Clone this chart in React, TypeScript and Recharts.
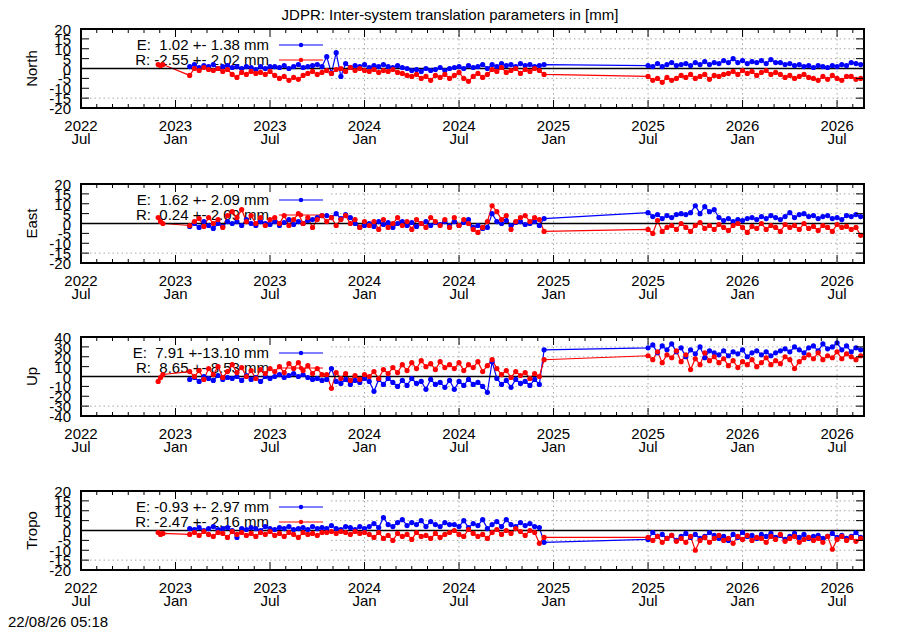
import React from 'react';
import { LineChart, Line, XAxis, YAxis, ReferenceLine, ReferenceArea } from 'recharts';

const FONT = '"Liberation Sans", Arial, Helvetica, sans-serif';
const BLUE = '#0000ff';
const RED = '#ff0000';
const DOT_R = 2.6;

// x axis: months counted from the first labelled tick
const X_MAX = 49.71;
const KEY_EDGE = 15.87;
const MONTH_TICKS = [0, 1, 2, 3, 4, 5, 6, 7, 8, 9, 10, 11, 12, 13, 14, 15, 16, 17, 18, 19, 20, 21, 22, 23, 24, 25, 26, 27, 28, 29, 30, 31, 32, 33, 34, 35, 36, 37, 38, 39, 40, 41, 42, 43, 44, 45, 46, 47, 48, 49];
const X_TICK_YEARS = ['2022', '2023', '2023', '2024', '2024', '2025', '2025', '2026', '2026'];
const X_TICK_MONTHS = ['Jul', 'Jan', 'Jul', 'Jan', 'Jul', 'Jan', 'Jul', 'Jan', 'Jul'];
const GRID_X = [18, 24, 30, 36, 42, 48];

// sample times (months)
const T0 = [4.9, 5.05, 5.2];
const T1 = [6.9, 7.2, 7.5, 7.8, 8.1, 8.4, 8.7, 9.0, 9.3, 9.6,
  9.9, 10.2, 10.5, 10.8, 11.1, 11.4, 11.7, 12.0, 12.3, 12.6,
  12.9, 13.2, 13.5, 13.8, 14.1, 14.4, 14.7, 15.0, 15.3, 15.6,
  15.9, 16.2, 16.5, 16.8, 17.1, 17.4, 17.7, 18.0, 18.3, 18.6,
  18.9, 19.2, 19.5, 19.8, 20.1, 20.4, 20.7, 21.0, 21.3, 21.6,
  21.9, 22.2, 22.5, 22.8, 23.1, 23.4, 23.7, 24.0, 24.3, 24.6,
  24.9, 25.2, 25.5, 25.8, 26.1, 26.4, 26.7, 27.0, 27.3, 27.6,
  27.9, 28.2, 28.5, 28.8, 29.1, 29.4];
const T2 = [36.0, 36.3, 36.6, 36.9, 37.2, 37.5, 37.8, 38.1, 38.4, 38.7,
  39.0, 39.3, 39.6, 39.9, 40.2, 40.5, 40.8, 41.1, 41.4, 41.7,
  42.0, 42.3, 42.6, 42.9, 43.2, 43.5, 43.8, 44.1, 44.4, 44.7,
  45.0, 45.3, 45.6, 45.9, 46.2, 46.5, 46.8, 47.1, 47.4, 47.7,
  48.0, 48.3, 48.6, 48.9, 49.2, 49.5];

// North
const NORTH_R0 = [2, 1.5, 2];
const NORTH_E1 = [1, 2, 0.5, 1.5, 1, 2, 0, 1, 1.5,
  0.5, 1, 0, 1, 0.5, -0.5, 1, 0, 1,
  1, 0.5, 1.5, 0, 1, 2, 0.5, 1, 1.5, 2, 1,
  6, -2.5, 8, -4, 2.5, 0.5,
  1.5, 1, 2, 0.5, 1.5, 1, 2, 1, 0.5, 1.5,
  0.5, 0, -1, -0.5, -1.5, 0, -1, -0.5, 0.5, -1, 0,
  0.5, 1, 0, 1.5, 0.5, 1, 2, 0,
  2, 1, 2.5, 1.5, 2, 1, 2.5, 1.5, 2, 1, 1.5, 2];
const NORTH_R1 = [-3.5, 0, -1, 0.5, -0.5, -1, 0, -1.5, -0.5,
  -3, -4.5, -2, -3, -1.5, -2.5, -2, -3, -1.5,
  -3.5, -5, -4, -6, -4.5, -5.5, -3.5,
  -2.5, -1.5, -3, -2, -1, -2.5,
  -0.5, 0, -1.5, 0.5, -1, 0, -1,
  -1.5, -0.5, -2, -1, -1.5, -0.5, -2,
  -2.5, -3.5, -4, -3, -5, -4, -6, -3.5, -4.5, -3, -5,
  -3.5, -2, -5, -6.5, -4, -2.5, -4.5, -3,
  -0.5, -1.5, 0.5, -2, -1, 0, -2.5, -0.5, -1.5, 0, -1, -3];
const NORTH_E2 = [1.5, 1, 2.5, 1, 2, 3, 1.5, 2,
  2.5, 1.5, 3, 2, 3.5, 2, 3, 2.5, 4, 3, 5,
  3, 4, 2.5, 3.5, 3, 4, 2.5, 4.5, 3,
  3, 2, 2.5, 1.5, 2, 1, 1.5,
  0.5, 1.5, 1, 0.5, 1.5, 1, 2, 1.5,
  3, 2.5, 2];
const NORTH_R2 = [-4, -6, -5, -7, -4.5, -6, -5, -3.5,
  -4.5, -3, -5, -4, -3, -5.5, -3.5, -4, -3, -2.5, -1.5,
  -3, -1, -2.5, -1.5, -3.5, -2, -1, -3, -2,
  -3, -4.5, -3.5, -5, -4, -3, -4.5,
  -5, -6, -4, -5.5, -3.5, -5, -6, -4,
  -4, -5.5, -5];

// East
const EAST_R0 = [3, 1, 0];
const EAST_E1 = [-1.5, 0, -2, 1, -1, -2.5, 0, -1.5, 1,
  0, 1, -1, 2, 0, -1, 1, 0, -0.5,
  1, -1, 0.5, 2, -0.5, 1, 0, 1.5, 2, 3, 4,
  4, 3, 5, 2.5, 4.5, 3, 0, -2, -1,
  0, -1.5, 1, -0.5, 0.5, -2, 0, 1, -1, 0.5, -1.5, 0, 1, -1, 0.5, -0.5, 1, -1,
  1, -1, 0.5, 2, -2, -1, -2.5, -2,
  5, 1,
  0, 1.5, -1, 0.5, 1, -0.5, 0, 1, -1, 2.5];
const EAST_R1 = [-1, 1, 2.5, -1.5, 3, 0, 2, -2, 4,
  6, 3, 7, 1, 4, 0, 3, -1, 2,
  3, 0, 4, -1, 2, 5, 0, 3, -2, 2, 4,
  1, 3, -1, 2, 4, 0, 2, -2, 1,
  -1, 1, -3, 2, -2, 0, 3, -1, 1, -3, 2, 0, -2, 3, 1, -1, 2, -2,
  3, -1, 2, 0, -3, -4.5, -2, 1,
  9, 6,
  2, 4, -3, 1, 3, 4, 1, 3, 2, -4];
const EAST_E2 = [5.5, 3.5, 4.5, 2.5, 4, 3, 4.5, 5,
  4.5, 5.5, 9, 5, 8.5, 6, 7, 3, 1.5, 2.5, 1, 2, 1.5, 2.5,
  3, 2, 3.5, 2.5, 4, 3, 2, 3.5, 5.5, 3, 4.5, 5, 3.5, 4, 2.5, 3.5, 4, 2.5, 3, 2, 4, 3.5, 4.5, 3.5];
const EAST_R2 = [-3, -5, 1.5, -4, -2,
  -1, -3, 0, -2, -4, -1, 0.5, -2.5, -1, -3,
  -0.5, -2, -3.5, -1, 0, -2, -4.5, -1.5, -2.5, 0,
  -3, -1, -2, -4, -0.5, -2, -1, -3, 0, -2.5,
  -1.5, -3.5, -1, -2, -4, -0.5, -2, -1.5, -3, -2,
  -6];

// Up
const UP_R0 = [-5, -1, 2];
const UP_E1 = [-3, -1, -5, 0, -2, -4, 1, -3, -1,
  -2, 0, -4, 1, -3, -1, -5, 0, -2,
  0, 2, -1, 1, 3, 0, 2, -1, -3, -2, -4,
  -3, 8, -5, -7, -3, -8, -4, -6, -2,
  -5, -15, -3, -8, -2, -6, -10,
  -4, -9, -2, -7, -5, -13, -3, -8, -6, -11, -4,
  -13, -5, -9, -3, -8, -6, -10, -16,
  15,
  -2, -8, -4, -11, -3, -7, -5, -9, -3, -8,
  27];
const UP_R1 = [5,
  0, 6, -3, 8, 2, 10, -1, 5,
  12, 4, 9, 0, 6, -2, 7, 3, 8,
  5, 10, 4, 13, 8, 14, 6, 11, 3, 8, 2,
  2, -12, 4, -2, 3, -4, 1, -3, 2,
  0, 5, -2, 7, 3, 9, 4,
  12, 6, 14, 8, 16, 10, 13, 7, 15, 9, 12,
  8, 14, 6, 12, 9, 15, 5, 11,
  17,
  8, 2, 6, -1, 5, 1, 4, -2, 3, 0,
  17];
const UP_E2 = [29, 32, 24, 31, 27, 33,
  25, 29, 20, 27, 23, 30, 19, 26, 24,
  22, 26, 21, 25, 23, 27, 20, 24, 26, 22, 25, 21, 24, 26,
  28, 25, 30, 27, 24, 29, 31, 26, 33, 28, 30, 34, 27, 31, 25, 29, 27];
const UP_R2 = [21, 17, 25, 14, 22, 19,
  26, 15, 22, 7, 18, 12, 24, 16, 20,
  14, 18, 11, 16, 9, 15, 12, 17, 10, 14, 19, 12, 16, 13,
  20, 17, 8, 15, 19, 22, 18, 24, 17, 21, 19, 25, 18, 23, 20, 17, 21];

// Tropo
const TROPO_R0 = [-1, -2, -1.5];
const TROPO_E1 = [1, 0.5, 1.5, 0, 1, 2, 0.5, 1, 1.5, 0,
  -3.5, 1, 0.5, 1.5, 1, 0, 2, 1, 0.5, 1.5,
  1, 2, 0.5, 1, 1.5, 0.5, 2, 1, 1.5,
  1, 2.5, 1, 0.5, 2, 1.5, 0.5, 2, 1,
  2, 3.5, 1.5, 6.5, 3, 2, 4, 5.5, 2.5, 4, 3, 5, 2, 4.5, 3, 2, 4, 3,
  3, 2, 5, 1.5, 3.5, 2.5, 5.5, 1,
  3, 4.5, 2, 5.5, 3, 2, 4, 2.5, 3.5, 2,
  1.5, -6];
const TROPO_R1 = [-2, -1, -2.5, -0.5, -2, -3, -1, -1.5, -3.5, -0.5,
  -2, -1, -2.5, -1.5, -3, -1, -2, -0.5, -2.5, -1.5,
  -3, -1, -2, -3.5, -1, -2, -1.5, -2.5, -1,
  -1, -0.5, -1.5, -0.5, -1, -2, -0.5, -1.5, -1,
  -2, -3.5, -1, -4, -2.5, -5, -1.5, -3, -2, -4.5, -1, -3, -2.5, -4, -1.5, -3.5, -2, -1,
  0, -2, -3, 0.5, -1.5, -3, -2, -4,
  -1, 0.5, -2, 0, -1.5, 1, -0.5, -2.5, 0, -1,
  -6.5, -3.5];
const TROPO_E2 = [-4.5, -1, -3, -2, -4, -2.5, -5, -3, -1.5, -3.5,
  -2, -4, -3, -1, -2.5, -4, -3, -5, -2, -3.5,
  -1, -3, -2.5, -4, -2, -3, -1.5, -3.5, -2.5, -4.5,
  -3, -1.5, -3.5, -2, -4, -3, -2.5, -4, -3, -1.5,
  -3.5, -2.5, -4, -3, -1, -3.5];
const TROPO_R2 = [-3.5, -5, -3, -6, -4, -2.5, -5.5, -4, -6, -3,
  -10, -5, -3.5, -6, -4, -2.5, -5, -4, -6.5, -3,
  -4.5, -2.5, -5, -3.5, -4, -6, -3, -4.5, -2, -5.5,
  -4, -3, -6, -4.5, -3.5, -5, -4, -6, -3, -9.5,
  -4.5, -3, -5, -3.5, -5.5, -4];

const PANEL_NAMES = ['North', 'East', 'Up', 'Tropo'];
const PANEL_LIMITS = [20, 20, 40, 20];
const PANEL_STEPS = [5, 5, 10, 5];
const LEGEND_E = ['E:  1.02 +- 1.38 mm', 'E:  1.62 +- 2.09 mm', 'E:  7.91 +-13.10 mm', 'E: -0.93 +- 2.97 mm'];
const LEGEND_R = ['R: -2.55 +- 2.02 mm', 'R:  0.24 +- 2.09 mm', 'R:  8.65 +- 8.53 mm', 'R: -2.47 +- 2.16 mm'];
const SERIES = [
  [NORTH_R0, NORTH_E1, NORTH_R1, NORTH_E2, NORTH_R2],
  [EAST_R0, EAST_E1, EAST_R1, EAST_E2, EAST_R2],
  [UP_R0, UP_E1, UP_R1, UP_E2, UP_R2],
  [TROPO_R0, TROPO_E1, TROPO_R1, TROPO_E2, TROPO_R2],
];

// layout
const PLOT_TOPS = [29, 184, 337, 491];
const PLOT_H = 79;
const TOP_AX = 10;
const BOTTOM_AX = 46;
const LEFT_AX = 81;
const RIGHT_AX = 36;

function buildRows(s: number[][]) {
  const [r0, e1, r1, e2, r2] = s;
  const rows: { t: number; e?: number; r?: number }[] = [];
  T0.forEach((t, i) => rows.push({ t, r: r0[i] }));
  T1.forEach((t, i) => rows.push({ t, e: e1[i], r: r1[i] }));
  T2.forEach((t, i) => rows.push({ t, e: e2[i], r: r2[i] }));
  return rows;
}

const BottomTick = (props: any) => {
  const { x, y, payload } = props;
  const v = payload.value;
  const major = v % 6 === 0;
  const idx = v / 6;
  return (
    <g>
      <line x1={x} x2={x} y1={y} y2={y - (major ? 8 : 4)} stroke="#000" strokeWidth={1} />
      {major && (
        <text x={x} y={y + 23} textAnchor="middle" fontFamily={FONT} fontSize={15} fill="#000">
          {X_TICK_YEARS[idx]}
        </text>
      )}
      {major && (
        <text x={x} y={y + 35.5} textAnchor="middle" fontFamily={FONT} fontSize={15} fill="#000">
          {X_TICK_MONTHS[idx]}
        </text>
      )}
    </g>
  );
};

const TopTick = (props: any) => {
  const { x, y, payload } = props;
  const major = payload.value % 6 === 0;
  return <line x1={x} x2={x} y1={y} y2={y + (major ? 8 : 4)} stroke="#000" strokeWidth={1} />;
};

const LeftTick = (props: any) => {
  const { x, y, payload } = props;
  return (
    <g>
      <line x1={x} x2={x + 8} y1={y} y2={y} stroke="#000" strokeWidth={1} />
      <text x={x - 10} y={y + 6} textAnchor="end" fontFamily={FONT} fontSize={15} fill="#000">
        {String(payload.value)}
      </text>
    </g>
  );
};

const RightTick = (props: any) => {
  const { x, y } = props;
  return <line x1={x} x2={x - 8} y1={y} y2={y} stroke="#000" strokeWidth={1} />;
};

function Panel({ k }: { k: number }) {
  const lim = PANEL_LIMITS[k];
  const step = PANEL_STEPS[k];
  const yTicks: number[] = [];
  for (let v = -lim; v <= lim; v += step) yTicks.push(v);
  const keyGrid = yTicks.filter((v) => v !== 0 && Math.abs(v) < lim && v > -lim + step);
  const rows = buildRows(SERIES[k]);
  const gridStyle = { stroke: '#a8a8a8', strokeWidth: 1, strokeDasharray: '1.5 3' };
  return (
    <div style={{ position: 'absolute', left: 0, top: PLOT_TOPS[k] - TOP_AX, width: 900, height: TOP_AX + PLOT_H + BOTTOM_AX }}>
      <LineChart width={900} height={TOP_AX + PLOT_H + BOTTOM_AX} data={rows} margin={{ top: 0, right: 0, bottom: 0, left: 0 }}>
        <XAxis xAxisId="b" dataKey="t" type="number" domain={[0, X_MAX]} ticks={MONTH_TICKS} interval={0}
          orientation="bottom" height={BOTTOM_AX} tickSize={0} tickMargin={0} axisLine={false} tickLine={false}
          tick={<BottomTick />} allowDataOverflow />
        <XAxis xAxisId="t" dataKey="t" type="number" domain={[0, X_MAX]} ticks={MONTH_TICKS} interval={0}
          orientation="top" height={TOP_AX} tickSize={0} tickMargin={0} axisLine={false} tickLine={false}
          tick={<TopTick />} allowDataOverflow />
        <YAxis yAxisId="l" type="number" domain={[-lim, lim]} ticks={yTicks} interval={0} width={LEFT_AX}
          tickSize={0} tickMargin={0} axisLine={false} tickLine={false} tick={<LeftTick />} allowDataOverflow />
        <YAxis yAxisId="r" orientation="right" type="number" domain={[-lim, lim]} ticks={yTicks} interval={0} width={RIGHT_AX}
          tickSize={0} tickMargin={0} axisLine={false} tickLine={false} tick={<RightTick />} allowDataOverflow />
        {GRID_X.map((gx) => (
          <ReferenceLine key={'gx' + gx} xAxisId="b" yAxisId="l" x={gx} {...gridStyle} />
        ))}
        {keyGrid.map((gy) => (
          <ReferenceLine key={'gy' + gy} xAxisId="b" yAxisId="l"
            segment={[{ x: KEY_EDGE, y: gy }, { x: X_MAX, y: gy }]} {...gridStyle} />
        ))}
        <ReferenceLine xAxisId="b" yAxisId="l" y={-lim + step} {...gridStyle} />
        <Line xAxisId="b" yAxisId="l" type="linear" dataKey="e" stroke={BLUE} strokeWidth={1.2}
          dot={{ r: DOT_R, fill: BLUE, stroke: BLUE, strokeWidth: 0 }} activeDot={false} isAnimationActive={false} />
        <Line xAxisId="b" yAxisId="l" type="linear" dataKey="r" stroke={RED} strokeWidth={1.2}
          dot={{ r: DOT_R, fill: RED, stroke: RED, strokeWidth: 0 }} activeDot={false} isAnimationActive={false} />
        <ReferenceLine xAxisId="b" yAxisId="l" y={0} stroke="#000" strokeWidth={1.5} />
        <ReferenceArea xAxisId="b" yAxisId="l" x1={0} x2={X_MAX} y1={-lim} y2={lim} fill="none" fillOpacity={0}
          stroke="#000" strokeWidth={2} />
      </LineChart>
    </div>
  );
}

function Underlay() {
  return (
    <svg width={900} height={630} style={{ position: 'absolute', left: 0, top: 0 }}>
      <text x={450} y={20} textAnchor="middle" fontFamily={FONT} fontSize={15} fill="#000">
        JDPR: Inter-system translation parameters in [mm]
      </text>
      {PANEL_NAMES.map((name, k) => {
        const top = PLOT_TOPS[k];
        const r1 = top + 16;
        const r2 = top + 31;
        return (
          <g key={name}>
            <text transform={`translate(37, ${top + PLOT_H / 2}) rotate(-90)`} textAnchor="middle"
              fontFamily={FONT} fontSize={15} fill="#000">{name}</text>
            <text x={269} y={r1 + 5.4} textAnchor="end" fontFamily={FONT} fontSize={15} fill="#000"
              style={{ whiteSpace: 'pre' }}>{LEGEND_E[k]}</text>
            <line x1={279} x2={323} y1={r1} y2={r1} stroke={BLUE} strokeWidth={1} />
            <circle cx={301} cy={r1} r={2.2} fill={BLUE} />
            <text x={269} y={r2 + 5.4} textAnchor="end" fontFamily={FONT} fontSize={15} fill="#000"
              style={{ whiteSpace: 'pre' }}>{LEGEND_R[k]}</text>
            <line x1={279} x2={323} y1={r2} y2={r2} stroke={RED} strokeWidth={1} />
            <circle cx={301} cy={r2} r={2.2} fill={RED} />
          </g>
        );
      })}
      <text x={8} y={627} fontFamily={FONT} fontSize={15} fill="#000">22/08/26 05:18</text>
    </svg>
  );
}

export default function App() {
  return (
    <div style={{ position: 'absolute', left: 0, top: 0, width: 900, height: 630, background: '#fff', overflow: 'hidden' }}>
      <Underlay />
      {PANEL_NAMES.map((n, k) => (
        <Panel key={n} k={k} />
      ))}
    </div>
  );
}
